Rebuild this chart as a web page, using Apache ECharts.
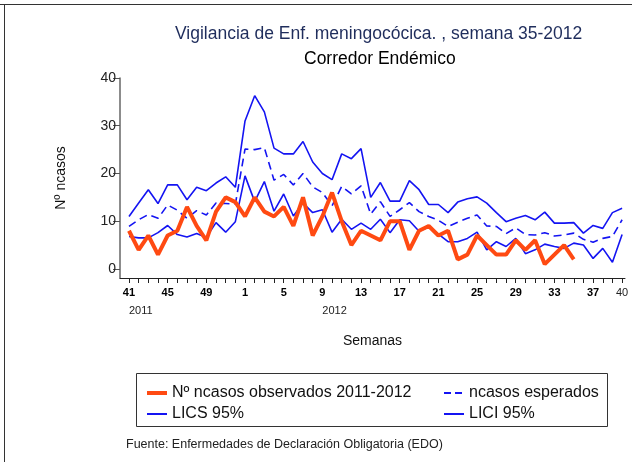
<!DOCTYPE html>
<html>
<head>
<meta charset="utf-8">
<script src="https://cdn.jsdelivr.net/npm/echarts@6/dist/echarts.min.js"></script>
<style>html,body{margin:0;padding:0;background:#fff}#c{width:632px;height:462px}</style>
</head>
<body>
<div id="c"></div>
<script>
// Weeks 41-52 of 2011 then 1-40 of 2012
const weeks = [41,42,43,44,45,46,47,48,49,50,51,52,
  1,2,3,4,5,6,7,8,9,10,11,12,13,14,15,16,17,18,19,20,
  21,22,23,24,25,26,27,28,29,30,31,32,33,34,35,36,37,38,39,40];
const tickIndex = [0,4,8,12,16,20,24,28,32,36,40,44,48,51];
const yearLabels = [{idx:0, text:'2011'}, {idx:20, text:'2012'}];
const yTicks = [0,10,20,30,40];

const observed = [8,4,7,3,7,8,13,9,6,12,15,14,11,15,12,11,13,9,15,7,11,16,10,5,8,7,6,10,10,4,8,9,7,8,2,3,7,5,3,3,6,4,6,1,3,5,2];
const esperados = [8.9,10.3,11.4,10.6,13.4,12.3,10.6,12.2,11.3,13.8,13.7,13.6,25.1,25.0,25.4,18.6,19.8,17.6,20.0,17.2,16.0,13.2,17.3,15.7,17.4,11.5,14.1,11.0,12.4,13.9,12.0,11.0,10.2,8.9,9.8,10.6,11.3,9.0,8.9,7.4,8.6,7.2,7.1,7.6,6.9,7.1,7.5,6.2,5.6,6.4,6.8,10.3];
const lics = [11.0,13.8,16.6,13.7,17.6,17.6,14.5,17.1,16.4,18.0,19.3,17.1,31.0,36.3,32.9,25.3,24.1,24.1,26.7,22.4,20.0,18.7,24.1,23.1,25.2,15.0,18.1,14.2,14.2,18.5,16.6,13.5,13.5,11.8,14.0,14.7,15.1,13.8,11.8,9.9,10.6,11.2,10.3,11.9,9.6,9.6,9.7,7.5,9.1,8.5,11.8,12.7];
const lici = [6.8,6.5,6.5,7.6,9.1,7.2,6.7,7.4,6.6,9.7,7.7,9.9,19.5,14.1,18.3,12.1,15.7,11.1,13.8,11.8,12.4,7.7,10.4,8.3,9.6,8.3,10.4,7.6,10.3,10.1,7.9,8.8,7.3,5.7,5.7,6.4,7.7,4.0,5.7,4.7,6.4,3.2,4.0,5.2,4.7,4.3,5.4,5.0,2.2,4.3,1.4,7.2];

const names = {
  obs: 'Nº ncasos observados 2011-2012',
  esp: 'ncasos esperados',
  lics: 'LICS 95%',
  lici: 'LICI 95%'
};

const pairs = arr => arr.map((v, i) => [i, v]);
const allIdx = weeks.map((w, i) => i);
const BLUE = '#1414f2';
const ORANGE = '#ff4a12';
const FONT = '"Liberation Sans", Arial, sans-serif';

// legend icons (thick, thin, dashed)
const ICON_THICK = 'path://M0,0H20V4H0Z';
const ICON_THIN = 'path://M0,0L0,0M0,1H20V3H0Z M20,4L20,4';
const ICON_DASH = 'path://M0,0L0,0M0,1H7V3H0Z M11,1H18V3H11Z M20,4L20,4';

const chart = echarts.init(document.getElementById('c'), null, {renderer: 'canvas'});
chart.setOption({
  animation: false,
  backgroundColor: '#fff',
  textStyle: {fontFamily: FONT},
  title: [
    {text: 'Vigilancia de Enf. meningocócica. , semana 35-2012', left: 170, top: 20,
     textStyle: {fontFamily: FONT, fontSize: 17.5, fontWeight: 'normal', color: '#1f2d5c'}},
    {text: 'Corredor Endémico', left: 299, top: 45,
     textStyle: {fontFamily: FONT, fontSize: 17.5, fontWeight: 'normal', color: '#000'}},
    {text: 'Fuente: Enfermedades de Declaración Obligatoria (EDO)', left: 121, top: 433,
     textStyle: {fontFamily: FONT, fontSize: 12.5, fontWeight: 'normal', color: '#222'}}
  ],
  grid: {left: 120, right: 7, top: 78, bottom: 184, containLabel: false},
  xAxis: [
    {
      type: 'value', min: -0.93, max: 51.3,
      name: 'Semanas', nameLocation: 'middle', nameGap: 56,
      nameTextStyle: {fontFamily: FONT, fontSize: 14, color: '#111'},
      axisLine: {show: true, onZero: false, lineStyle: {color: '#222', width: 1}},
      axisTick: {show: true, length: 5, inside: false, customValues: allIdx, lineStyle: {color: '#222', width: 1}},
      axisLabel: {
        customValues: tickIndex, margin: 9,
        formatter: v => (v === 51 ? '{n|' + weeks[v] + '}' : '{b|' + weeks[v] + '}'),
        rich: {
          b: {fontFamily: FONT, fontSize: 11, fontWeight: 'bold', color: '#000'},
          n: {fontFamily: FONT, fontSize: 11, fontWeight: 'normal', color: '#222'}
        }
      },
      splitLine: {show: false}
    },
    {
      type: 'value', min: -0.93, max: 51.3, position: 'bottom',
      axisLine: {show: false}, axisTick: {show: false}, splitLine: {show: false},
      axisLabel: {
        customValues: yearLabels.map(y => y.idx), margin: 27, align: 'left',
        formatter: v => (yearLabels.find(y => y.idx === v) || {}).text || '',
        fontFamily: FONT, fontSize: 11, color: '#222'
      }
    }
  ],
  yAxis: {
    type: 'value', min: -1.9, max: 40,
    name: 'Nº ncasos', nameLocation: 'middle', nameGap: 52, nameRotate: 90,
    nameTextStyle: {fontFamily: FONT, fontSize: 14, color: '#111'},
    axisLine: {show: true, onZero: false, lineStyle: {color: '#666', width: 1.5}},
    axisTick: {show: true, length: 7, customValues: yTicks, lineStyle: {color: '#555'}},
    axisLabel: {customValues: yTicks, margin: 4, fontFamily: FONT, fontSize: 14, color: '#222'},
    splitLine: {show: false}
  },
  legend: [
    {orient: 'vertical', left: 142, top: 380, itemWidth: 20, itemHeight: 4, itemGap: 5,
     data: [{name: names.obs, icon: ICON_THICK}, {name: names.lics, icon: ICON_THIN}],
     textStyle: {fontFamily: FONT, fontSize: 16, color: '#111'}},
    {orient: 'vertical', left: 439, top: 380, itemWidth: 20, itemHeight: 4, itemGap: 5,
     data: [{name: names.esp, icon: ICON_DASH}, {name: names.lici, icon: ICON_THIN}],
     textStyle: {fontFamily: FONT, fontSize: 16, color: '#111'}}
  ],
  graphic: [
    {type: 'rect', shape: {x: 136.5, y: 373.5, width: 471, height: 53}, style: {fill: 'none', stroke: '#333', lineWidth: 1}, silent: true},
    {type: 'line', shape: {x1: 0, y1: 4.5, x2: 632, y2: 4.5}, style: {stroke: '#333', lineWidth: 1}, silent: true},
    {type: 'line', shape: {x1: 4.5, y1: 4.5, x2: 4.5, y2: 462}, style: {stroke: '#333', lineWidth: 1}, silent: true}
  ],
  series: [
    {name: names.obs, type: 'line', data: pairs(observed), showSymbol: false, symbol: 'none',
     lineStyle: {color: ORANGE, width: 4}, itemStyle: {color: ORANGE}, z: 5},
    {name: names.esp, type: 'line', data: pairs(esperados), showSymbol: false, symbol: 'none',
     lineStyle: {color: BLUE, width: 1.6, type: [8, 5]}, itemStyle: {color: BLUE}, z: 3},
    {name: names.lics, type: 'line', data: pairs(lics), showSymbol: false, symbol: 'none',
     lineStyle: {color: BLUE, width: 1.6}, itemStyle: {color: BLUE}, z: 3},
    {name: names.lici, type: 'line', data: pairs(lici), showSymbol: false, symbol: 'none',
     lineStyle: {color: BLUE, width: 1.6}, itemStyle: {color: BLUE}, z: 3}
  ]
});
</script>
</body>
</html>
